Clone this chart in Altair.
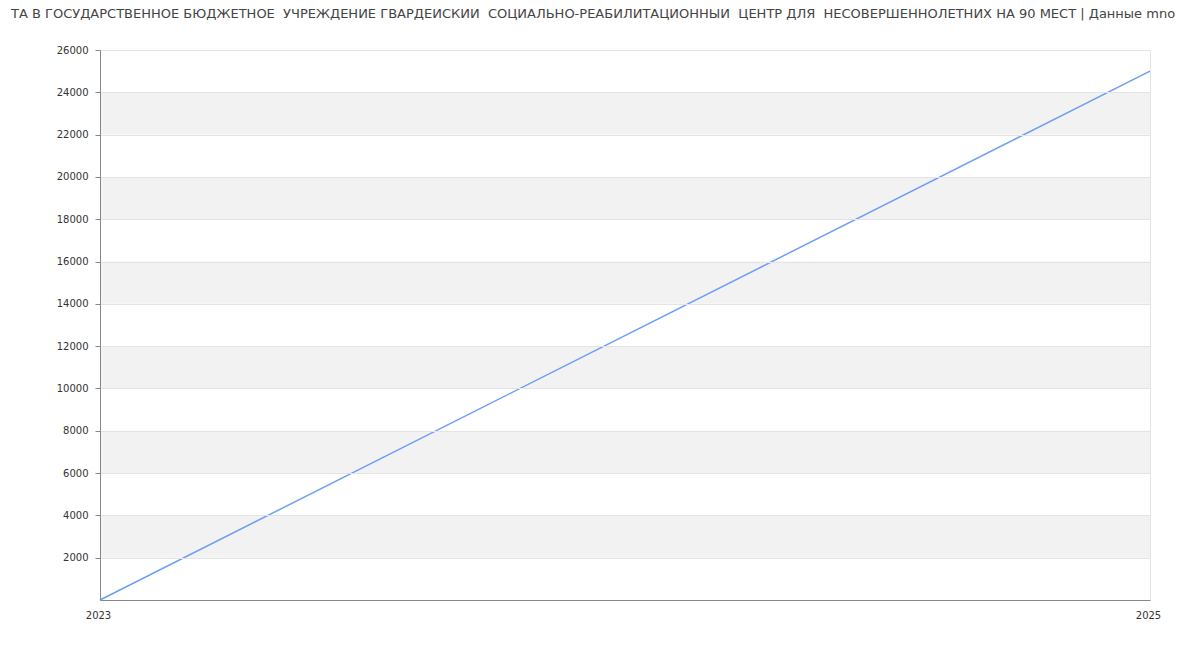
import altair as alt
import pandas as pd

years = [2023, 2025]
values = [0, 25000]
band_start = [2000, 6000, 10000, 14000, 18000, 22000]
band_end = [4000, 8000, 12000, 16000, 20000, 24000]
y_ticks = list(range(2000, 26001, 2000))
title_text = ("ТА В ГОСУДАРСТВЕННОЕ БЮДЖЕТНОЕ \u00a0УЧРЕЖДЕНИЕ ГВАРДЕЙСКИЙ \u00a0СОЦИАЛЬНО-РЕАБИЛИТАЦИОННЫЙ "
              "\u00a0ЦЕНТР ДЛЯ \u00a0НЕСОВЕРШЕННОЛЕТНИХ НА 90 МЕСТ | Данные mno")

line_df = pd.DataFrame({"year": years, "value": values})
band_df = pd.DataFrame({"y0": band_start, "y1": band_end})
title_df = pd.DataFrame({"t": [title_text]})

yscale = alt.Scale(domain=[0, 26000], nice=False, zero=True)
xscale = alt.Scale(domain=[2023, 2025], nice=False, zero=False)

yaxis = alt.Axis(values=y_ticks, format="d", grid=True, gridColor="#e4e4e4",
                 domainColor="#888888", tickColor="#888888", tickSize=5,
                 labelFontSize=10, labelColor="#333333", labelPadding=7,
                 labelFont="DejaVu Sans", zindex=1)

bands = alt.Chart(band_df).mark_rect(color="#f2f2f2").encode(
    x=alt.value(0), x2=alt.value(1050),
    y=alt.Y("y0:Q", scale=yscale, axis=yaxis, title=None), y2="y1:Q",
)

line = alt.Chart(line_df).mark_line(color="#6d9ef5", strokeWidth=1.5).encode(
    x=alt.X("year:Q", scale=xscale, title=None,
            axis=alt.Axis(values=years, format="d", ticks=False, grid=True,
                          gridColor="#e4e4e4", domainColor="#888888",
                          labelFontSize=10, labelColor="#333333", labelPadding=10,
                          labelFont="DejaVu Sans", labelFlush=False, labelOffset=-2,
                          zindex=1)),
    y=alt.Y("value:Q", scale=yscale, title=None, axis=yaxis),
)

title = alt.Chart(title_df).mark_text(
    align="left", baseline="middle", fontSize=13, font="DejaVu Sans", color="#444444"
).encode(x=alt.value(-89), y=alt.value(-36), text="t:N")

chart = alt.layer(bands, line, title).properties(
    width=1050, height=550,
    autosize=alt.AutoSizeParams(type="none"),
    padding={"left": 92, "top": 42, "right": 42, "bottom": 42},
).configure_view(stroke=None)

chart.save("out.html", embed_options={"renderer": "svg", "actions": False})
